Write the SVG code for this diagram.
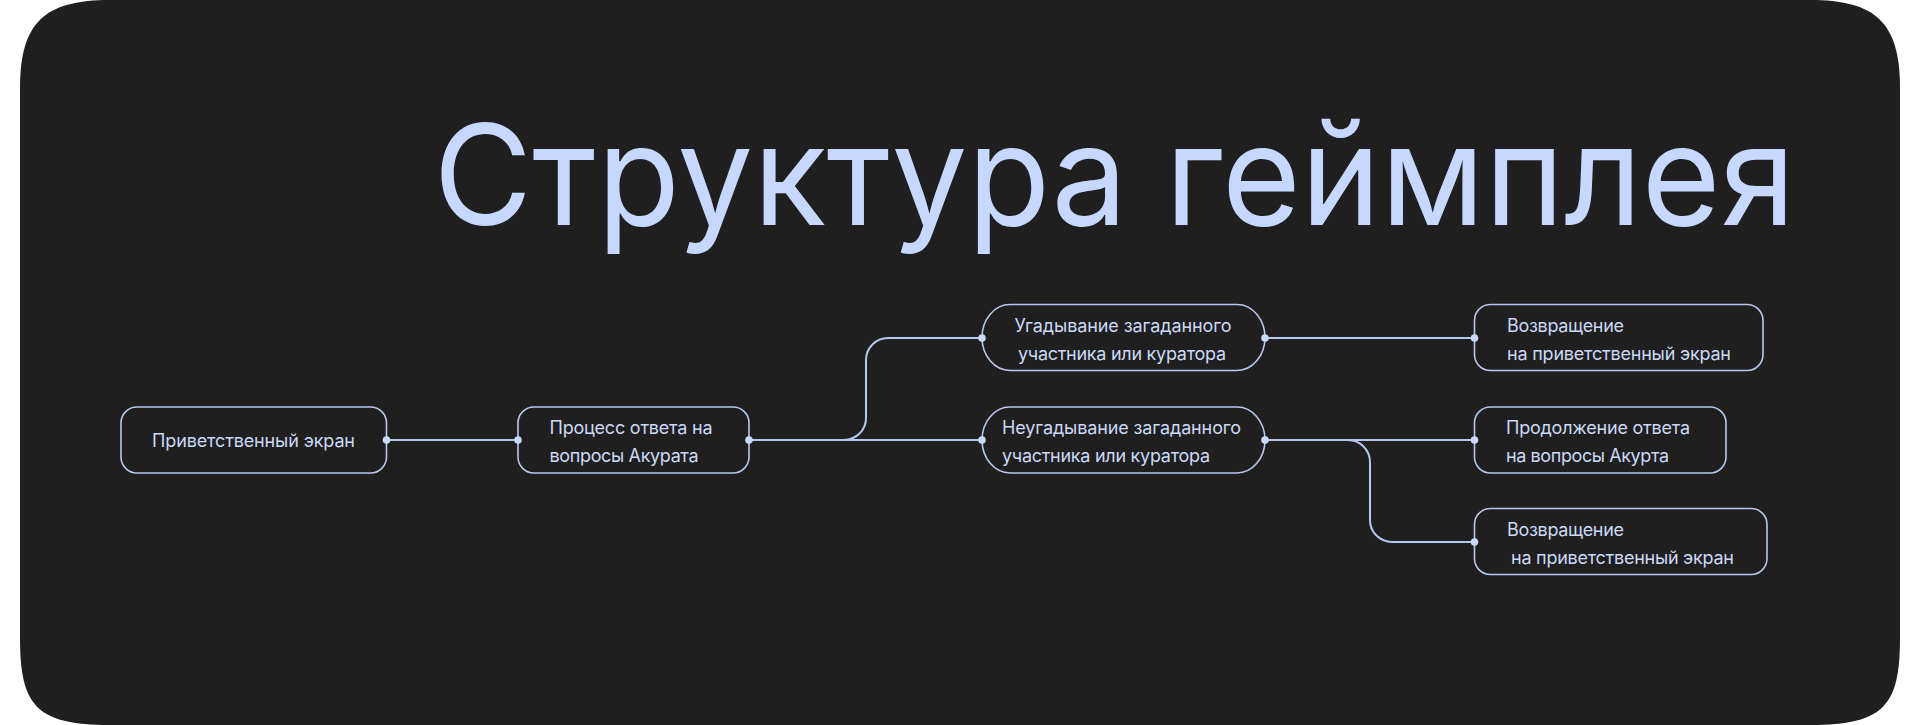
<svg xmlns="http://www.w3.org/2000/svg" width="1920" height="725" viewBox="0 0 1920 725">
<defs>
<style>
.bg{fill:#1f1f1f}
.title{font-family:Inter,"Noto Sans","Liberation Sans",sans-serif;font-size:140px;fill:#c6d8ff;font-weight:400}
.box{fill:#1f1f1f;stroke:#b7c8ee;stroke-width:1.6}
.lbl{font-family:Inter,"Noto Sans","Liberation Sans",sans-serif;font-size:18px;fill:#cbd9f6}
.wire{fill:none;stroke:#b7c8ee;stroke-width:2}
.dot{fill:#c9d9ff}
</style>
</defs>
<rect width="1920" height="725" fill="#ffffff"/>
<path class="bg" d="M110,0 H1810 C1875,0 1900,22 1900,88 V637 C1900,705 1885,725 1810,725 H110 C35,725 20,705 20,637 V88 C20,22 45,0 110,0 Z"/>
<text class="title" x="1114.5" y="225" text-anchor="middle" textLength="1362" lengthAdjust="spacingAndGlyphs">Структура геймплея</text>

<g id="connectors">
<path class="wire" d="M386.5,440 H518"/>
<path class="wire" d="M749,440 H982"/>
<path class="wire" d="M749,440 H844 A22,22 0 0 0 866,418 V360 A22,22 0 0 1 888,338 H982"/>
<path class="wire" d="M1265,338 H1474.5"/>
<path class="wire" d="M1265,440 H1474.5"/>
<path class="wire" d="M1265,440 H1348 A22,22 0 0 1 1370,462 V520 A22,22 0 0 0 1392,542 H1474.5"/>
</g>

<g id="node-welcome">
<rect class="box" x="121" y="407" width="265.5" height="66" rx="16"/>
<text class="lbl" x="253.5" y="446.5" text-anchor="middle" textLength="203">Приветственный экран</text>
</g>
<g id="node-process">
<rect class="box" x="518" y="407" width="231" height="66" rx="16"/>
<text class="lbl" x="549.5" y="433.5" textLength="163">Процесс ответа на</text>
<text class="lbl" x="549.5" y="462" textLength="149">вопросы Акурата</text>
</g>
<g id="node-guess">
<rect class="box" x="982" y="304.5" width="283" height="66" rx="28" ry="33"/>
<text class="lbl" x="1123" y="331.5" text-anchor="middle" textLength="217">Угадывание загаданного</text>
<text class="lbl" x="1122" y="359.5" text-anchor="middle" textLength="208">участника или куратора</text>
</g>
<g id="node-noguess">
<rect class="box" x="982" y="407" width="283" height="66" rx="28" ry="33"/>
<text class="lbl" x="1002" y="433.5" textLength="239">Неугадывание загаданного</text>
<text class="lbl" x="1002" y="462" textLength="208">участника или куратора</text>
</g>
<g id="node-return1">
<rect class="box" x="1474.5" y="304.5" width="288.5" height="66" rx="16"/>
<text class="lbl" x="1507" y="331.5" textLength="117">Возвращение</text>
<text class="lbl" x="1507" y="359.5" textLength="224">на приветственный экран</text>
</g>
<g id="node-continue">
<rect class="box" x="1474.5" y="407" width="251.5" height="66" rx="16"/>
<text class="lbl" x="1506" y="433.5" textLength="184">Продолжение ответа</text>
<text class="lbl" x="1506" y="462" textLength="163">на вопросы Акурта</text>
</g>
<g id="node-return2">
<rect class="box" x="1474.5" y="508.5" width="292.5" height="66" rx="16"/>
<text class="lbl" x="1507" y="535.5" textLength="117">Возвращение</text>
<text class="lbl" x="1511" y="563.5" textLength="223"> на приветственный экран</text>
</g>

<g id="dots">
<circle class="dot" cx="386.5" cy="440" r="3.8"/>
<circle class="dot" cx="518" cy="440" r="3.8"/>
<circle class="dot" cx="749" cy="440" r="3.8"/>
<circle class="dot" cx="982" cy="338" r="3.8"/>
<circle class="dot" cx="982" cy="440" r="3.8"/>
<circle class="dot" cx="1265" cy="338" r="3.8"/>
<circle class="dot" cx="1265" cy="440" r="3.8"/>
<circle class="dot" cx="1474.5" cy="338" r="3.8"/>
<circle class="dot" cx="1474.5" cy="440" r="3.8"/>
<circle class="dot" cx="1474.5" cy="542" r="3.8"/>
</g>
</svg>
